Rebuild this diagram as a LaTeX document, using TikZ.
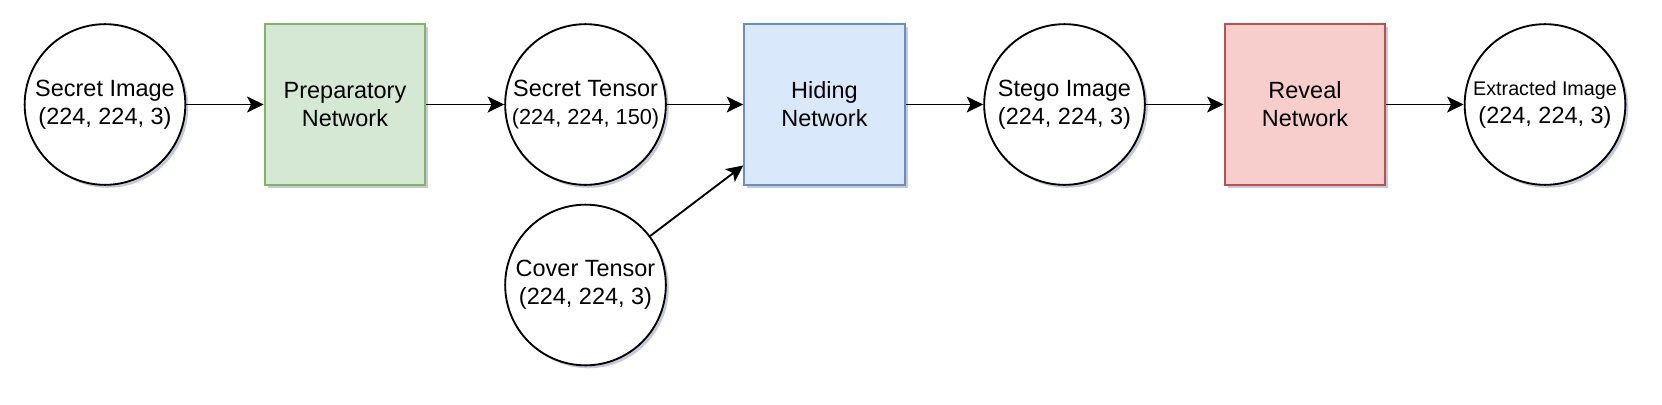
\documentclass[tikz,border=0pt]{standalone}
\usepackage{fontspec}
\setmainfont{Liberation Sans}
\usetikzlibrary{shadows,arrows.meta,calc}
\definecolor{gfill}{HTML}{D5E8D4}
\definecolor{gline}{HTML}{82B366}
\definecolor{bfill}{HTML}{DAE8FC}
\definecolor{bline}{HTML}{6C8EBF}
\definecolor{rfill}{HTML}{F8CECC}
\definecolor{rline}{HTML}{B85450}
\definecolor{shade}{RGB}{90,100,150}
\begin{document}
\begin{tikzpicture}[x=0.75pt,y=-0.75pt,
  shad/.style={drop shadow={shadow xshift=2.2pt,shadow yshift=-2.2pt,opacity=0.35,fill=shade}},
  txt/.style={font=\fontsize{17.6}{21}\selectfont,align=center,inner sep=0pt},
  datanode/.style={circle,draw=black,line width=1.4pt,fill=white,minimum size=120.5pt,shad,txt},
  netbox/.style={rectangle,line width=1.4pt,minimum size=120.5pt,shad,txt},
  conn/.style={line width=1.4pt,-{Stealth[length=12.5pt,width=12pt,inset=3pt]}}
]
\useasboundingbox (0,0) rectangle (1662,404);
\node[datanode] (si) at (105,104.5) {Secret Image\\(224, 224, 3)};
\node[netbox,draw=gline,fill=gfill] (prep) at (345,104.5) {Preparatory\\Network};
\node[datanode] (st) at (585.5,104.5) {Secret Tensor\\{\fontsize{16.3}{21}\selectfont(224, 224, 150)}};
\node[netbox,draw=bline,fill=bfill] (hid) at (824.5,104.5) {Hiding\\Network};
\node[datanode] (ct) at (585.5,285) {Cover Tensor\\(224, 224, 3)};
\node[datanode] (sg) at (1064.5,104.5) {Stego Image\\(224, 224, 3)};
\node[netbox,draw=rline,fill=rfill] (rev) at (1305,104.5) {Reveal\\Network};
\node[datanode] (ex) at (1545,104.5) {{\fontsize{14.8}{21}\selectfont Extracted Image}\\(224, 224, 3)};
\coordinate (hin) at ($(hid.south west)!0.125!(hid.north west)$);
\draw[conn] (si) -- (prep);
\draw[conn] (prep) -- (st);
\draw[conn] (st) -- (hid);
\draw[conn] (ct) -- (hin);
\draw[conn] (hid) -- (sg);
\draw[conn] (sg) -- (rev);
\draw[conn] (rev) -- (ex);
\end{tikzpicture}
\end{document}
